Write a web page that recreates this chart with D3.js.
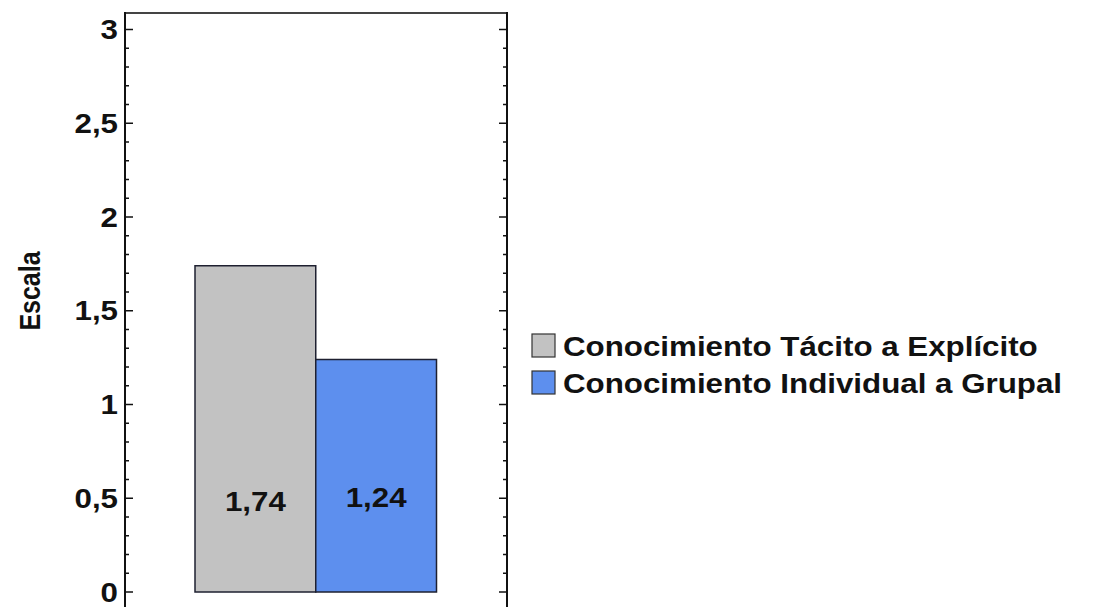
<!DOCTYPE html>
<html>
<head>
<meta charset="utf-8">
<script src="https://cdn.jsdelivr.net/npm/d3@7"></script>
<style>
  html, body { margin: 0; padding: 0; background: #ffffff; }
  svg { display: block; font-family: "Liberation Sans", Arial, sans-serif; }
</style>
</head>
<body>
<svg id="chart" width="1093" height="607"></svg>
<script>
// Series shown as side-by-side bars
const categories = ["Conocimiento Tácito a Explícito", "Conocimiento Individual a Grupal"];
const values = [1.74, 1.24];
const valueLabels = ["1,74", "1,24"];
const colors = ["#c2c2c2", "#5d8fee"];
const yTicks = [0, 0.5, 1, 1.5, 2, 2.5, 3];
const yTickLabels = ["0", "0,5", "1", "1,5", "2", "2,5", "3"];
const yLabel = "Escala";

const svg = d3.select("#chart");
const ink = "#111";
const stretch = 1.16; // glyphs are drawn slightly wide

// Places a text at (x, y) with a horizontal widening around its anchor
function label(parent, x, y, str, opts) {
  const g = parent.append("g")
    .attr("transform", `translate(${x},${y}) scale(${stretch},1)`);
  return g.append("text")
    .attr("text-anchor", opts.anchor || "start")
    .attr("dy", opts.dy || 0)
    .attr("font-size", opts.size)
    .attr("font-weight", "bold")
    .attr("fill", ink)
    .text(str);
}

// Plot frame
const frame = { left: 125, right: 507, top: 13 };
const y = d3.scaleLinear().domain([0, 3]).range([592, 29.5]);
const x = d3.scaleBand().domain(categories).range([195, 436.5]).paddingInner(0).paddingOuter(0);

svg.append("line")
  .attr("x1", frame.left).attr("x2", frame.right)
  .attr("y1", frame.top).attr("y2", frame.top)
  .attr("stroke", "#444").attr("stroke-width", 2);

// Bars
svg.selectAll("rect.bar")
  .data(categories)
  .join("rect")
  .attr("class", "bar")
  .attr("x", d => x(d))
  .attr("width", x.bandwidth())
  .attr("y", (d, i) => y(values[i]))
  .attr("height", (d, i) => y(0) - y(values[i]))
  .attr("fill", (d, i) => colors[i])
  .attr("stroke", "#1e2030")
  .attr("stroke-width", 1.5);

// Value labels inside bars
const valueBaselines = [511, 507];
categories.forEach((c, i) => {
  label(svg, x(c) + x.bandwidth() / 2, valueBaselines[i], valueLabels[i], { size: 27, anchor: "middle" });
});

// Left and right axes with minor ticks pointing inward
const minor = d3.range(0, 31).map(v => v / 10);
function sideAxis(xPos, dir) {
  const g = svg.append("g").attr("transform", `translate(${xPos},0)`);
  g.append("line")
    .attr("x1", 0).attr("x2", 0)
    .attr("y1", frame.top - 1).attr("y2", 607)
    .attr("stroke", ink).attr("stroke-width", 2);
  g.selectAll("line.tick")
    .data(minor)
    .join("line")
    .attr("class", "tick")
    .attr("x1", 0)
    .attr("x2", d => dir * ((Math.round(d * 10) % 5 === 0) ? 8 : 4))
    .attr("y1", d => y(d)).attr("y2", d => y(d))
    .attr("stroke", ink).attr("stroke-width", 1.5);
  return g;
}
sideAxis(frame.left, 1);
sideAxis(frame.right, -1);

yTicks.forEach((t, i) => {
  label(svg, 118, y(t), yTickLabels[i], { size: 27, anchor: "end", dy: "0.36em" });
});

// Y axis title
svg.append("text")
  .attr("transform", "translate(40,291) scale(1.16,1) rotate(-90)")
  .attr("text-anchor", "middle")
  .attr("font-size", 25)
  .attr("font-weight", "bold")
  .attr("fill", ink)
  .text(yLabel);

// Legend
const legendRows = [356, 393];
categories.forEach((c, i) => {
  svg.append("rect")
    .attr("x", 532).attr("y", legendRows[i] - 22)
    .attr("width", 23).attr("height", 23)
    .attr("fill", colors[i])
    .attr("stroke", "#333").attr("stroke-width", 1.2);
  label(svg, 563, legendRows[i], c, { size: 27 });
});
</script>
</body>
</html>
